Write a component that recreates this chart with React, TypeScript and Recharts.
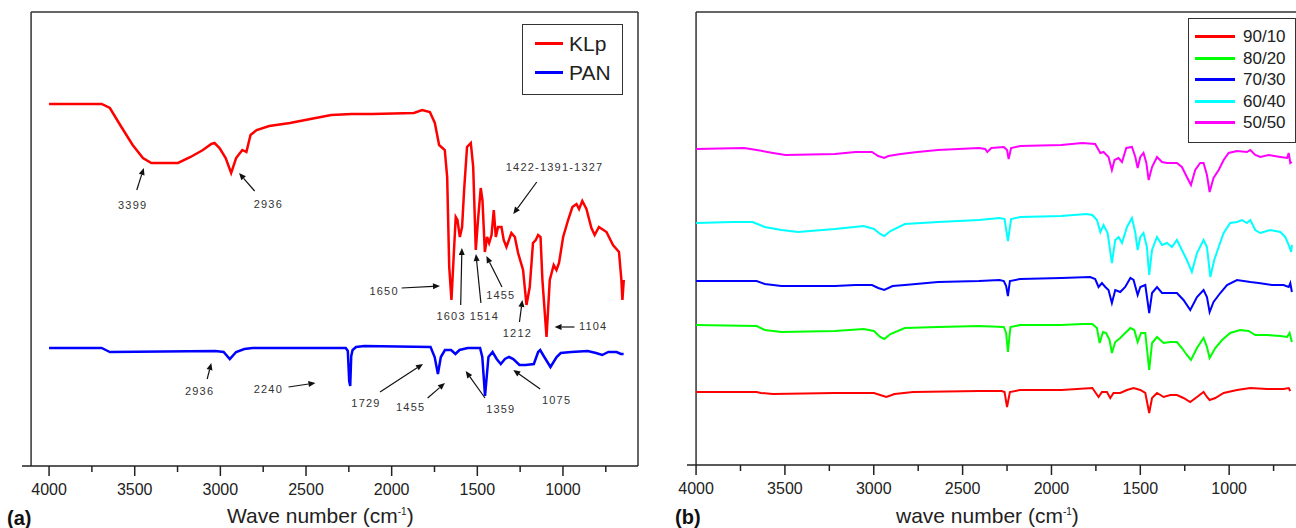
import React from "react";
import { LineChart, Line, XAxis, YAxis, ReferenceLine, ReferenceDot, Legend } from "recharts";

// [wavenumber (cm-1), transmittance (a.u., offset)]
const KLP: [number, number][] = [
  [4000, 362], [3693, 362], [3645, 358], [3585, 341], [3512, 321], [3452, 308], [3403, 303],
  [3247, 303], [3174, 309], [3102, 316], [3053, 322], [3034, 323], [3005, 318], [2969, 308],
  [2937, 293], [2908, 308], [2872, 316], [2848, 314], [2824, 331], [2788, 336], [2715, 340],
  [2594, 343], [2474, 347], [2353, 351], [2232, 352], [2111, 352], [1870, 353], [1822, 356],
  [1777, 354], [1748, 343], [1723, 321], [1690, 316], [1676, 289], [1664, 199], [1651, 166],
  [1637, 213], [1626, 249], [1616, 246], [1602, 229], [1589, 239], [1577, 276], [1560, 319],
  [1538, 323], [1524, 299], [1509, 216], [1496, 246], [1480, 278], [1470, 266], [1456, 214],
  [1443, 229], [1431, 223], [1417, 231], [1404, 256], [1392, 229], [1379, 239], [1359, 239],
  [1346, 226], [1330, 219], [1301, 233], [1281, 229], [1262, 213], [1233, 196], [1213, 161],
  [1194, 179], [1175, 223], [1159, 226], [1145, 231], [1131, 229], [1120, 186], [1096, 129],
  [1077, 186], [1054, 201], [1038, 196], [1023, 203], [999, 229], [970, 246], [945, 259],
  [921, 262], [906, 257], [887, 265], [863, 257], [834, 238], [815, 231], [790, 239],
  [746, 234], [708, 221], [673, 214], [659, 186], [653, 166], [645, 186],
];

const PAN: [number, number][] = [
  [4000, 118], [3693, 118], [3669, 116], [3645, 114], [3029, 115], [2981, 114], [2945, 107],
  [2908, 114], [2860, 117], [2812, 118], [2268, 118], [2256, 115], [2248, 85], [2242, 80],
  [2236, 110], [2228, 116], [2208, 119], [2160, 120], [1773, 119], [1749, 109], [1730, 92],
  [1713, 109], [1689, 116], [1653, 116], [1628, 112], [1604, 116], [1556, 118], [1484, 118],
  [1471, 109], [1455, 70], [1435, 109], [1411, 114], [1387, 107], [1363, 102], [1339, 107],
  [1315, 109], [1290, 107], [1254, 101], [1218, 101], [1170, 102], [1145, 114], [1133, 116],
  [1109, 109], [1073, 99], [1037, 109], [1013, 113], [952, 114], [856, 115], [807, 113],
  [771, 111], [735, 114], [687, 114], [662, 112], [646, 112],
];

const S90_10: [number, number][] = [
  [4000, 73], [3659, 73], [3636, 72], [3567, 71], [3219, 72], [2999, 72], [2964, 70],
  [2929, 68], [2883, 71], [2778, 73], [2408, 74], [2280, 74], [2264, 73], [2250, 58],
  [2234, 73], [2176, 75], [1944, 75], [1770, 77], [1735, 68], [1716, 73], [1688, 73],
  [1669, 67], [1651, 72], [1613, 72], [1575, 75], [1538, 77], [1500, 75], [1472, 72],
  [1450, 52], [1434, 67], [1406, 72], [1369, 68], [1331, 70], [1294, 70], [1257, 67],
  [1219, 63], [1181, 68], [1144, 73], [1125, 68], [1110, 65], [1078, 67], [1031, 72],
  [956, 75], [881, 77], [787, 76], [694, 76], [665, 77], [656, 74],
];

const S80_20: [number, number][] = [
  [4000, 140], [3659, 139], [3613, 135], [3520, 133], [3219, 134], [3057, 136], [2999, 134],
  [2964, 128], [2941, 126], [2906, 131], [2825, 137], [2639, 138], [2408, 139], [2268, 138],
  [2255, 132], [2245, 113], [2231, 138], [2176, 140], [1944, 140], [1828, 141], [1770, 141],
  [1744, 137], [1729, 122], [1710, 133], [1692, 132], [1673, 125], [1660, 112], [1641, 123],
  [1613, 127], [1585, 132], [1556, 137], [1534, 135], [1515, 123], [1496, 132], [1472, 132],
  [1450, 95], [1434, 122], [1406, 128], [1369, 122], [1331, 123], [1294, 123], [1266, 117],
  [1238, 110], [1215, 105], [1181, 117], [1144, 127], [1125, 118], [1110, 107], [1078, 117],
  [1040, 125], [994, 132], [938, 135], [891, 134], [853, 130], [787, 130], [712, 129],
  [674, 128], [660, 132], [647, 123],
];

const S70_30: [number, number][] = [
  [4000, 184], [3659, 184], [3613, 181], [3520, 179], [3219, 179], [3103, 180], [3010, 180],
  [2975, 177], [2941, 175], [2894, 179], [2825, 180], [2639, 183], [2408, 184], [2292, 185],
  [2268, 184], [2255, 179], [2245, 169], [2234, 184], [2176, 186], [1944, 187], [1782, 188],
  [1754, 186], [1735, 178], [1716, 182], [1697, 178], [1679, 175], [1660, 162], [1641, 175],
  [1613, 173], [1585, 178], [1556, 187], [1538, 185], [1515, 170], [1500, 178], [1472, 180],
  [1450, 152], [1434, 172], [1406, 178], [1378, 172], [1341, 172], [1294, 172], [1257, 165],
  [1219, 155], [1181, 168], [1144, 175], [1125, 168], [1110, 153], [1088, 163], [1050, 172],
  [1012, 180], [956, 185], [881, 183], [834, 182], [759, 180], [694, 180], [665, 178],
  [656, 182], [647, 173],
];

const S60_40: [number, number][] = [
  [4000, 242], [3798, 243], [3682, 243], [3613, 238], [3520, 235], [3427, 233], [3219, 236],
  [3057, 239], [2999, 236], [2964, 231], [2941, 229], [2906, 234], [2825, 241], [2639, 243],
  [2408, 245], [2292, 247], [2264, 246], [2245, 224], [2227, 246], [2176, 248], [1944, 249],
  [1805, 251], [1770, 250], [1744, 245], [1725, 233], [1707, 240], [1684, 232], [1660, 202],
  [1641, 225], [1622, 228], [1603, 222], [1575, 238], [1547, 247], [1528, 232], [1515, 215],
  [1500, 228], [1482, 232], [1463, 218], [1450, 190], [1434, 215], [1406, 228], [1378, 220],
  [1350, 222], [1322, 218], [1294, 225], [1266, 215], [1238, 205], [1210, 193], [1181, 212],
  [1144, 225], [1125, 218], [1106, 188], [1084, 205], [1059, 218], [1031, 232], [994, 242],
  [956, 243], [928, 245], [900, 242], [881, 245], [853, 235], [825, 232], [769, 235],
  [712, 233], [684, 228], [665, 220], [651, 213], [647, 220],
];

const S50_50: [number, number][] = [
  [4000, 316], [3729, 317], [3659, 315], [3567, 312], [3497, 310], [3219, 311], [3103, 313],
  [3010, 313], [2975, 309], [2941, 307], [2918, 309], [2848, 311], [2755, 313], [2639, 315],
  [2408, 317], [2373, 316], [2361, 313], [2338, 317], [2268, 318], [2250, 315], [2241, 306],
  [2227, 317], [2176, 319], [1944, 320], [1828, 322], [1754, 321], [1725, 312], [1707, 313],
  [1679, 308], [1660, 295], [1645, 305], [1623, 307], [1603, 303], [1579, 317], [1547, 318],
  [1528, 308], [1515, 297], [1500, 308], [1482, 312], [1466, 302], [1453, 285], [1434, 298],
  [1406, 308], [1378, 303], [1350, 302], [1294, 302], [1266, 298], [1238, 288], [1215, 280],
  [1191, 295], [1163, 302], [1144, 302], [1125, 290], [1110, 273], [1088, 287], [1059, 295],
  [1031, 305], [1003, 312], [956, 314], [900, 313], [881, 315], [853, 310], [825, 308],
  [778, 310], [712, 308], [674, 307], [665, 312], [656, 302], [647, 303],
];

const TICKS = [4000, 3750, 3500, 3250, 3000, 2750, 2500, 2250, 2000, 1750, 1500, 1250, 1000, 750];

const NAMES_A = ["KLp", "PAN"];
const NAMES_B = ["90/10", "80/20", "70/30", "60/40", "50/50"];

// peak labels of panel (a): text, wavenumber, transmittance
const PEAKS_A = [
  { text: "3399", wn: 3512, t: 261 },
  { text: "2936", wn: 2720, t: 262 },
  { text: "1422-1391-1327", wn: 1049, t: 299 },
  { text: "1650", wn: 2044, t: 175 },
  { text: "1603", wn: 1653, t: 150 },
  { text: "1514", wn: 1459, t: 150 },
  { text: "1455", wn: 1363, t: 171 },
  { text: "1212", wn: 1266, t: 133 },
  { text: "1104", wn: 824, t: 140 },
  { text: "2936", wn: 3121, t: 75 },
  { text: "2240", wn: 2720, t: 77 },
  { text: "1729", wn: 2150, t: 63 },
  { text: "1455", wn: 1889, t: 59 },
  { text: "1359", wn: 1363, t: 57 },
  { text: "1075", wn: 1037, t: 66 },
];

// arrows of panel (a): [wn, t] tail -> head
const ARROWS_A: [number, number, number, number][] = [
  [3488, 276, 3447, 298],
  [2800, 275, 2891, 293],
  [1153, 284, 1290, 252],
  [1942, 178, 1718, 180],
  [1597, 161, 1590, 218],
  [1479, 163, 1508, 212],
  [1356, 179, 1447, 210],
  [1254, 144, 1237, 166],
  [933, 139, 1049, 139],
  [3077, 87, 3053, 103],
  [2602, 79, 2445, 83],
  [2068, 74, 1817, 102],
  [1790, 68, 1689, 83],
  [1455, 68, 1568, 95],
  [1133, 77, 1290, 96],
];

const FONT = "'Liberation Sans', Arial, sans-serif";
const toRows = (s: [number, number][]) => s.map(([wn, t]) => ({ wn, t }));

function WnTick(props: any) {
  const { x, y, payload } = props;
  const major = payload.value % 500 === 0;
  return (
    <g>
      <line x1={x} y1={y} x2={x} y2={y + (major ? 10 : 6)} stroke="#222" strokeWidth={1.5} />
      {major && (
        <text x={x} y={y + 29} textAnchor="middle" fontSize={16} fill="#222" fontFamily={FONT}>
          {payload.value}
        </text>
      )}
    </g>
  );
}

function Arrow(props: any) {
  const { x1, y1, x2, y2 } = props;
  const a = Math.atan2(y2 - y1, x2 - x1);
  const bx = x2 - 7 * Math.cos(a);
  const by = y2 - 7 * Math.sin(a);
  const px = -Math.sin(a) * 3;
  const py = Math.cos(a) * 3;
  return (
    <g>
      <line x1={x1} y1={y1} x2={bx} y2={by} stroke="#111" strokeWidth={1.2} />
      <polygon points={`${x2},${y2} ${bx + px},${by + py} ${bx - px},${by - py}`} fill="#111" />
    </g>
  );
}

const peakText = (text: string) => (p: any) => (
  <text
    x={p.cx}
    y={p.cy + 4}
    textAnchor="middle"
    fontSize={11}
    letterSpacing={1.2}
    fill="#333"
    fontFamily={FONT}
  >
    {text}
  </text>
);

const legendBox =
  (o: {
    order: string[];
    rowH: number;
    padTop: number;
    lineX: number;
    lineW: number;
    textX: number;
    fontSize: number;
    w: number;
    h: number;
  }) =>
  (props: any) => {
    const items = [...(props.payload || [])].sort(
      (a: any, b: any) => o.order.indexOf(a.value) - o.order.indexOf(b.value)
    );
    return (
      <div
        style={{
          width: o.w,
          height: o.h,
          border: "1.5px solid #333",
          boxSizing: "border-box",
          paddingTop: o.padTop,
          background: "#fff",
          fontFamily: FONT,
        }}
      >
        {items.map((e: any) => (
          <div key={e.value} style={{ position: "relative", height: o.rowH }}>
            <div
              style={{
                position: "absolute",
                left: o.lineX,
                top: o.rowH / 2 - 1.5,
                width: o.lineW,
                height: 3,
                background: e.color,
              }}
            />
            <div
              style={{
                position: "absolute",
                left: o.textX,
                top: 0,
                lineHeight: `${o.rowH}px`,
                fontSize: o.fontSize,
                color: "#222",
              }}
            >
              {e.value}
            </div>
          </div>
        ))}
      </div>
    );
  };

const axisTitle: React.CSSProperties = {
  position: "absolute",
  top: 504,
  fontSize: 21,
  fontFamily: FONT,
  color: "#222",
  whiteSpace: "nowrap",
};

export default function App() {
  return (
    <div
      style={{
        position: "absolute",
        left: 0,
        top: 0,
        width: 1296,
        height: 528,
        overflow: "hidden",
        background: "#fff",
      }}
    >
      {/* panel (a) */}
      <div style={{ position: "absolute", left: 0, top: 0 }}>
        <LineChart width={660} height={528} margin={{ top: 12, right: 22, bottom: 32, left: 22 }}>
          <XAxis
            type="number"
            dataKey="wn"
            domain={[562, 4158]}
            reversed
            allowDataOverflow
            ticks={TICKS}
            interval={0}
            tickSize={0}
            tickMargin={0}
            tickLine={false}
            tick={<WnTick />}
            height={30}
            axisLine={{ stroke: "#222", strokeWidth: 1.5 }}
          />
          <YAxis hide type="number" domain={[0, 454]} allowDataOverflow />
          <ReferenceLine segment={[{ x: 4105, y: 0 }, { x: 4105, y: 454 }]} stroke="#333" strokeWidth={1.5} />
          <ReferenceLine segment={[{ x: 4105, y: 454 }, { x: 562, y: 454 }]} stroke="#333" strokeWidth={1.5} />
          <ReferenceLine segment={[{ x: 562, y: 0 }, { x: 562, y: 454 }]} stroke="#333" strokeWidth={1.5} />
          <Line data={toRows(KLP)} dataKey="t" name="KLp" stroke="#ff0000" strokeWidth={2.5} dot={false} isAnimationActive={false} />
          <Line data={toRows(PAN)} dataKey="t" name="PAN" stroke="#0000ff" strokeWidth={2.5} dot={false} isAnimationActive={false} />
          {ARROWS_A.map((a, i) => (
            <ReferenceLine key={`ar${i}`} segment={[{ x: a[0], y: a[1] }, { x: a[2], y: a[3] }]} shape={<Arrow />} />
          ))}
          {PEAKS_A.map((p, i) => (
            <ReferenceDot key={`pk${i}`} x={p.wn} y={p.t} r={0} shape={peakText(p.text)} />
          ))}
          <Legend
            layout="horizontal"
            verticalAlign="middle"
            align="center"
            wrapperStyle={{ left: 522, top: 24, width: 101, height: 71 }}
            content={legendBox({ order: NAMES_A, rowH: 29, padTop: 3.5, lineX: 12, lineW: 28, textX: 46, fontSize: 21, w: 101, h: 71 })}
          />
        </LineChart>
      </div>

      {/* panel (b) */}
      <div style={{ position: "absolute", left: 660, top: 0 }}>
        <LineChart width={660} height={528} margin={{ top: 12, right: 13, bottom: 33, left: 27 }}>
          <XAxis
            type="number"
            dataKey="wn"
            domain={[562, 4051]}
            reversed
            allowDataOverflow
            ticks={TICKS}
            interval={0}
            tickSize={0}
            tickMargin={0}
            tickLine={false}
            tick={<WnTick />}
            height={30}
            axisLine={{ stroke: "#222", strokeWidth: 1.5 }}
          />
          <YAxis hide type="number" domain={[0, 453]} allowDataOverflow />
          <ReferenceLine segment={[{ x: 4000, y: 0 }, { x: 4000, y: 453 }]} stroke="#333" strokeWidth={1.5} />
          <ReferenceLine segment={[{ x: 4000, y: 453 }, { x: 562, y: 453 }]} stroke="#333" strokeWidth={1.5} />
          <Line data={toRows(S90_10)} dataKey="t" name={NAMES_B[0]} stroke="#ff0000" strokeWidth={2} dot={false} isAnimationActive={false} />
          <Line data={toRows(S80_20)} dataKey="t" name={NAMES_B[1]} stroke="#00ff00" strokeWidth={2} dot={false} isAnimationActive={false} />
          <Line data={toRows(S70_30)} dataKey="t" name={NAMES_B[2]} stroke="#0000ff" strokeWidth={2} dot={false} isAnimationActive={false} />
          <Line data={toRows(S60_40)} dataKey="t" name={NAMES_B[3]} stroke="#00ffff" strokeWidth={2} dot={false} isAnimationActive={false} />
          <Line data={toRows(S50_50)} dataKey="t" name={NAMES_B[4]} stroke="#ff00ff" strokeWidth={2} dot={false} isAnimationActive={false} />
          <Legend
            layout="horizontal"
            verticalAlign="middle"
            align="center"
            wrapperStyle={{ left: 528, top: 18, width: 108, height: 125 }}
            content={legendBox({ order: NAMES_B, rowH: 21.5, padTop: 7, lineX: 6, lineW: 40, textX: 54, fontSize: 17, w: 108, h: 125 })}
          />
        </LineChart>
      </div>

      <div style={{ ...axisTitle, left: 227 }}>
        Wave number (cm<sup style={{ fontSize: 10 }}>-1</sup>)
      </div>
      <div style={{ ...axisTitle, left: 896 }}>
        wave number (cm<sup style={{ fontSize: 10 }}>-1</sup>)
      </div>
      <div style={{ position: "absolute", left: 7, top: 507, fontSize: 20, fontWeight: "bold", fontFamily: FONT, color: "#111" }}>
        (a)
      </div>
      <div style={{ position: "absolute", left: 675, top: 506, fontSize: 20, fontWeight: "bold", fontFamily: FONT, color: "#111" }}>
        (b)
      </div>
    </div>
  );
}
